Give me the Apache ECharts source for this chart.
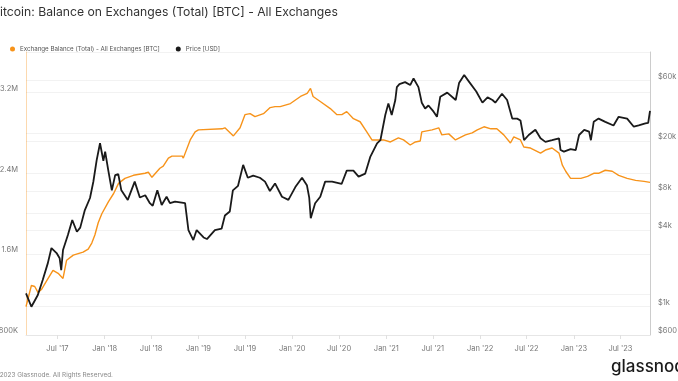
<!DOCTYPE html>
<html><head><meta charset="utf-8">
<script src="https://cdn.jsdelivr.net/npm/echarts@6/dist/echarts.min.js"></script>
<style>html,body{margin:0;padding:0;background:#fff}#c{width:678px;height:381px}</style>
</head><body><div id="c"></div>
<script>
const titleText = 'Bitcoin: Balance on Exchanges (Total) [BTC] - All Exchanges';
const balanceName = 'Exchange Balance (Total) - All Exchanges [BTC]';
const priceName = 'Price [USD]';

const balanceDates = ['2017-03-01','2017-03-22','2017-04-04','2017-04-17','2017-04-30','2017-05-19','2017-06-14','2017-07-04','2017-07-23','2017-08-06','2017-09-01','2017-10-09','2017-10-29','2017-11-12','2017-11-24','2017-12-07','2017-12-21','2018-01-16','2018-02-05','2018-02-24','2018-03-21','2018-04-23','2018-06-07','2018-06-20','2018-07-04','2018-08-04','2018-08-17','2018-09-06','2018-09-20','2018-10-30','2018-11-03','2018-11-30','2018-12-19','2019-01-01','2019-04-03','2019-04-14','2019-05-17','2019-06-12','2019-07-01','2019-07-21','2019-08-09','2019-09-11','2019-10-07','2019-10-26','2019-11-15','2019-12-25','2020-02-02','2020-02-28','2020-03-12','2020-03-22','2020-04-19','2020-05-28','2020-06-23','2020-07-12','2020-07-31','2020-08-26','2020-09-21','2020-10-17','2020-11-06','2020-12-21','2021-01-17','2021-02-17','2021-03-09','2021-04-04','2021-04-24','2021-05-13','2021-05-19','2021-06-28','2021-07-24','2021-08-05','2021-09-01','2021-09-27','2021-11-05','2021-12-01','2021-12-21','2022-01-16','2022-02-12','2022-03-07','2022-04-03','2022-04-29','2022-05-12','2022-06-07','2022-06-20','2022-07-16','2022-08-24','2022-09-12','2022-10-08','2022-11-04','2022-11-10','2022-11-17','2022-11-30','2022-12-19','2023-01-28','2023-02-23','2023-03-19','2023-04-07','2023-05-03','2023-05-30','2023-06-24','2023-07-27','2023-08-29','2023-10-01','2023-10-24'];
const balanceValues = [1080000,1290000,1280000,1220000,1250000,1330000,1440000,1410000,1360000,1540000,1590000,1620000,1650000,1710000,1790000,1910000,2000000,2120000,2200000,2300000,2350000,2380000,2400000,2410000,2360000,2450000,2470000,2550000,2570000,2570000,2550000,2730000,2810000,2830000,2840000,2850000,2770000,2850000,2980000,2990000,2960000,2990000,3050000,3060000,3060000,3090000,3160000,3190000,3240000,3160000,3110000,3040000,2980000,2980000,3010000,2940000,2910000,2810000,2730000,2730000,2710000,2750000,2730000,2680000,2710000,2720000,2810000,2830000,2850000,2780000,2790000,2730000,2780000,2800000,2830000,2860000,2840000,2840000,2780000,2700000,2760000,2730000,2660000,2650000,2600000,2630000,2650000,2600000,2600000,2480000,2420000,2350000,2350000,2370000,2400000,2400000,2430000,2420000,2380000,2350000,2330000,2320000,2310000];

const priceDates = ['2017-03-01','2017-03-22','2017-04-16','2017-05-05','2017-05-25','2017-06-08','2017-06-28','2017-07-10','2017-07-16','2017-07-23','2017-08-11','2017-08-28','2017-09-15','2017-09-28','2017-10-16','2017-11-05','2017-11-18','2017-12-01','2017-12-14','2017-12-27','2018-01-03','2018-01-15','2018-01-29','2018-02-11','2018-02-23','2018-03-07','2018-04-01','2018-04-28','2018-05-18','2018-06-08','2018-06-26','2018-07-07','2018-07-25','2018-08-11','2018-08-30','2018-09-12','2018-10-02','2018-11-10','2018-11-23','2018-12-12','2018-12-25','2019-01-21','2019-02-03','2019-03-06','2019-04-01','2019-04-14','2019-05-03','2019-05-15','2019-06-04','2019-06-24','2019-07-12','2019-08-02','2019-08-28','2019-09-17','2019-10-06','2019-10-26','2019-11-22','2019-12-17','2020-01-13','2020-02-08','2020-02-27','2020-03-07','2020-03-13','2020-03-30','2020-04-19','2020-05-08','2020-06-04','2020-07-11','2020-07-31','2020-08-26','2020-09-15','2020-10-11','2020-10-31','2020-11-26','2020-12-09','2020-12-28','2021-01-09','2021-01-22','2021-02-05','2021-02-11','2021-02-21','2021-03-15','2021-04-04','2021-04-17','2021-05-06','2021-05-19','2021-06-01','2021-06-14','2021-07-04','2021-07-17','2021-07-30','2021-08-26','2021-09-28','2021-10-11','2021-10-31','2021-11-20','2021-12-17','2022-01-10','2022-01-30','2022-02-18','2022-03-01','2022-03-27','2022-04-16','2022-05-06','2022-05-25','2022-06-07','2022-06-21','2022-07-09','2022-08-04','2022-08-24','2022-09-12','2022-10-08','2022-11-04','2022-11-10','2022-11-23','2022-12-19','2023-01-08','2023-01-21','2023-02-10','2023-03-01','2023-03-08','2023-03-19','2023-04-07','2023-05-03','2023-06-04','2023-06-24','2023-07-27','2023-08-22','2023-09-10','2023-10-06','2023-10-17','2023-10-24'];
const priceValues = [1275,1000,1236,1620,2200,2890,2640,2400,1940,2790,3660,4800,3880,4180,5740,7140,9580,14170,19200,14000,16500,11800,8200,10800,11000,8200,6900,9600,7200,7500,6500,6200,8200,6300,7300,6500,6700,6500,4000,3340,4000,3500,3400,4000,4100,5200,5600,8200,8900,13000,10300,10700,10300,9600,8100,9300,7300,6900,8700,10300,9000,7200,4950,6500,7300,9600,9600,9200,11700,11700,10500,11100,15100,19200,20300,32000,39500,32000,42000,53000,56000,58000,55000,62000,53000,40000,36000,38000,34000,31000,44600,48000,42000,57000,66000,58000,49000,40000,44000,42000,40000,47000,42000,30000,30000,29000,20300,22300,24500,21000,19700,20300,21000,17000,16500,17300,17000,22300,24500,23700,20300,28300,30000,28300,26500,31000,30000,25900,26500,27500,27800,34500];

const xTickDates = ['2017-07-01','2018-01-01','2018-07-01','2019-01-01','2019-07-01','2020-01-01','2020-07-01','2021-01-01','2021-07-01','2022-01-01','2022-07-01','2023-01-01','2023-07-01'];
const xStart = '2017-03-01';
const xEnd = '2023-10-24';
const leftTickValues = [800000,1600000,2400000,3200000];
const rightTickValues = [600,1000,4000,8000,20000,60000];

const FONT = 'Inter, "Noto Sans", sans-serif';
const ts = s => Date.parse(s);
const toPairs = (d, v) => d.map((x, i) => [ts(x), v[i]]);
const fmtLeft = v => v >= 1000000 ? (v / 1000000) + 'M' : (v / 1000) + 'K';
const fmtRight = v => '$' + (v >= 1000 ? (v / 1000) + 'k' : v);
const MONTHS = ['Jan','Feb','Mar','Apr','May','Jun','Jul','Aug','Sep','Oct','Nov','Dec'];
const fmtDate = v => { const d = new Date(v); return MONTHS[d.getUTCMonth()] + " '" + String(d.getUTCFullYear()).slice(2); };
const xTicks = xTickDates.map(ts);

const chart = echarts.init(document.getElementById('c'), null, {renderer: 'canvas'});
chart.setOption({
  animation: false,
  backgroundColor: '#fff',
  textStyle: {fontFamily: FONT},
  legend: {
    left: 5, top: 41, icon: 'circle', itemWidth: 5, itemHeight: 5, itemGap: 16,
    textStyle: {fontSize: 6.2, color: '#555', fontFamily: FONT},
    data: [balanceName, priceName]
  },
  grid: {left: 26, right: 28, top: 52, bottom: 46, containLabel: false, outerBoundsMode: 'none'},
  xAxis: {
    type: 'value', min: ts(xStart), max: ts(xEnd), scale: true,
    axisLine: {show: true, lineStyle: {color: '#e6e6e6'}},
    axisTick: {show: true, length: 4, customValues: xTicks, lineStyle: {color: '#e0e0e0'}},
    axisLabel: {customValues: xTicks, formatter: fmtDate, fontSize: 7.5, color: '#777', margin: 10, fontFamily: FONT},
    splitLine: {show: false}
  },
  yAxis: [
    {
      type: 'value', position: 'left', min: 800000, max: 3600000, interval: 400000,
      axisLine: {show: true, lineStyle: {color: 'rgba(247,147,26,0.35)'}},
      axisTick: {show: false},
      axisLabel: {customValues: leftTickValues, formatter: fmtLeft, fontSize: 7.5, color: '#777', margin: 8, fontFamily: FONT, verticalAlign: 'bottom', lineHeight: 8},
      splitLine: {show: true, lineStyle: {color: '#f2f2f2', width: 1}}
    },
    {
      type: 'log', logBase: 10, position: 'right', min: 600, max: 100000,
      axisLine: {show: true, lineStyle: {color: '#cccccc'}},
      axisTick: {show: false, customValues: rightTickValues},
      axisLabel: {customValues: rightTickValues, formatter: fmtRight, fontSize: 7.5, color: '#777', margin: 8, fontFamily: FONT, verticalAlign: 'bottom', lineHeight: 8},
      splitLine: {show: true, lineStyle: {color: '#f2f2f2', width: 1}}
    }
  ],
  series: [
    {
      name: balanceName, type: 'line', yAxisIndex: 0, showSymbol: false, symbol: 'circle',
      itemStyle: {color: '#f7931a'}, lineStyle: {color: '#f7931a', width: 1.4},
      data: toPairs(balanceDates, balanceValues)
    },
    {
      name: priceName, type: 'line', yAxisIndex: 1, showSymbol: false, symbol: 'circle',
      itemStyle: {color: '#1a1a1a'}, lineStyle: {color: '#1a1a1a', width: 1.8},
      data: toPairs(priceDates, priceValues)
    }
  ],
  graphic: [
    {type: 'text', left: -8, top: 6, style: {text: titleText, font: '12.2px ' + FONT, fill: '#333'}},
    {type: 'text', left: -8, top: 372, style: {text: '© 2023 Glassnode. All Rights Reserved.', font: '6.4px ' + FONT, fill: '#888'}},
    {type: 'text', left: 611, top: 358, style: {text: 'glassnode', font: '500 17px ' + FONT, fill: '#1a1a1a'}}
  ]
});
</script>
</body></html>
